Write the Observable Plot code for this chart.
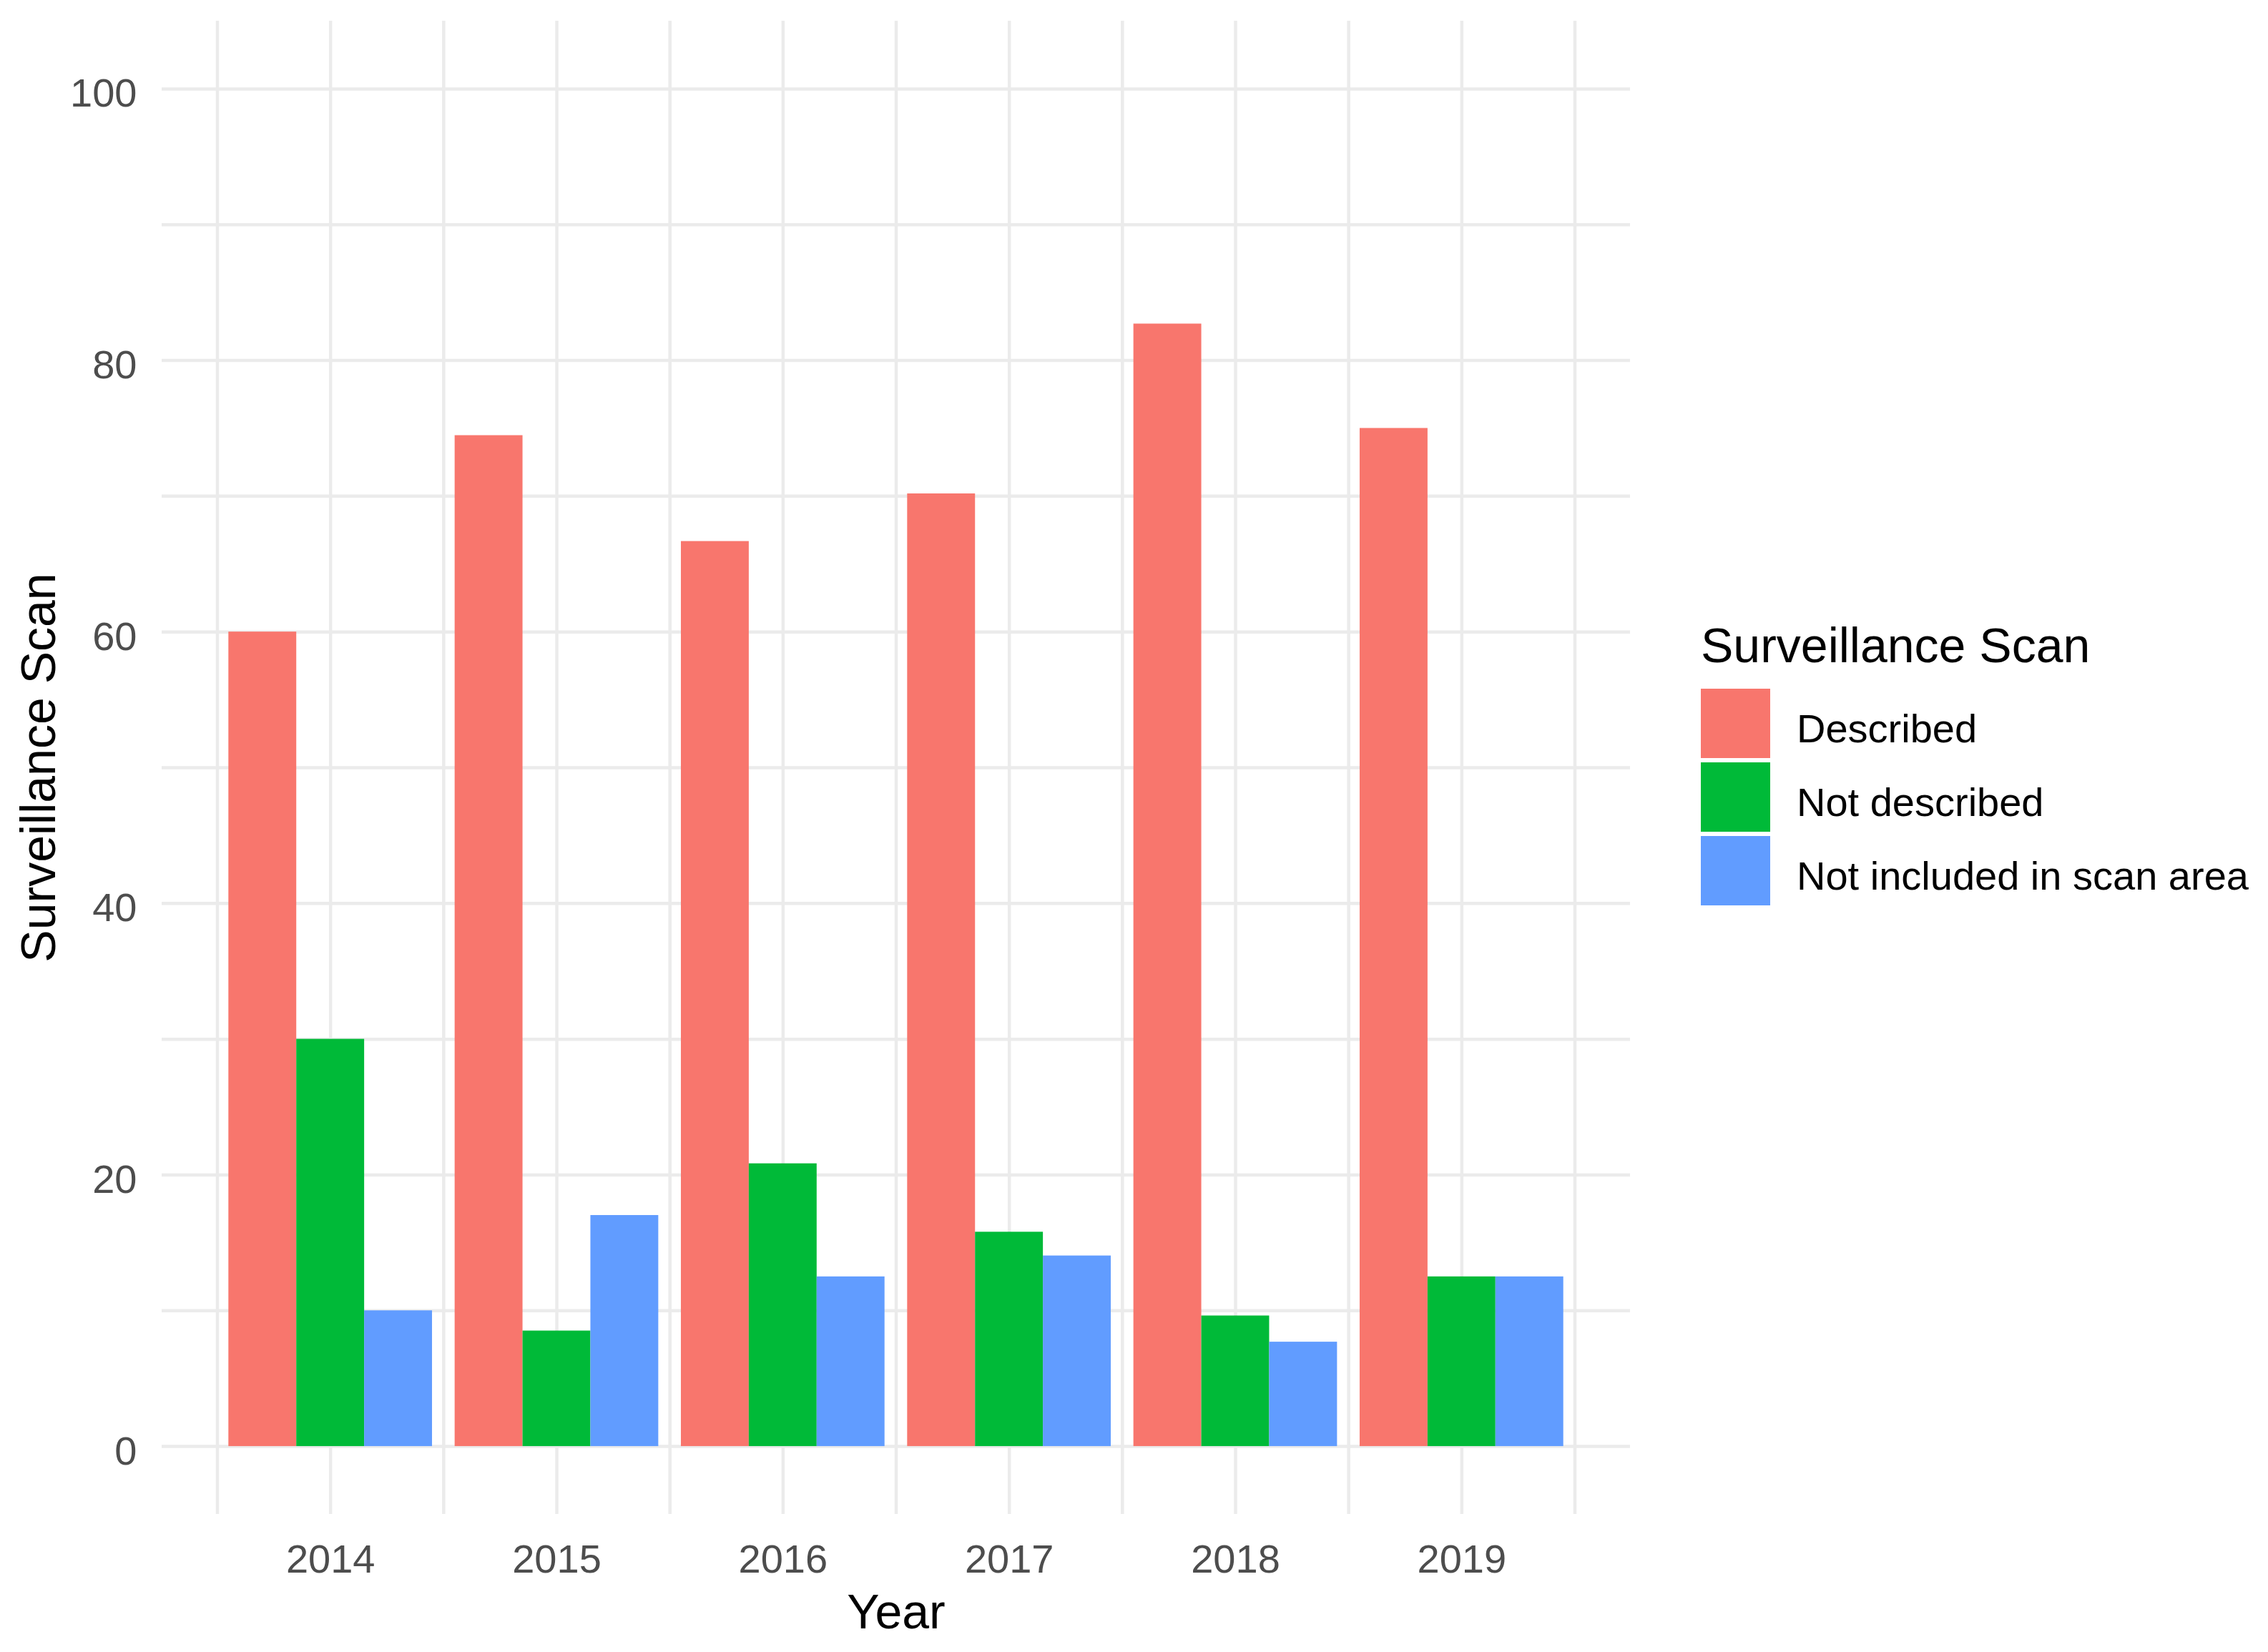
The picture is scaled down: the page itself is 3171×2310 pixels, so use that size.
<!DOCTYPE html>
<html>
<head>
<meta charset="utf-8">
<script src="https://cdn.jsdelivr.net/npm/d3@7"></script>
<script src="https://cdn.jsdelivr.net/npm/@observablehq/plot@0.6"></script>
<style>
  html, body { margin: 0; padding: 0; background: #ffffff; }
  body { width: 3171px; height: 2310px; position: relative; overflow: hidden;
         font-family: "Liberation Sans", Arial, sans-serif; }
  #chart { position: absolute; left: 0; top: 0; }
  #legend { position: absolute; left: 2378px; top: 868px; color: #000; }
  #legend .ltitle { font-size: 68px; line-height: 68px; height: 68px; white-space: nowrap; margin-bottom: 27px; }
  #legend .row { display: flex; align-items: flex-start; height: 97px; margin-bottom: 6px; }
  #legend .key { width: 97px; height: 97px; flex: none; }
  #legend .lab { font-size: 56px; line-height: 97px; margin-left: 37px; position: relative; top: 7px; white-space: nowrap; }
</style>
</head>
<body>
<div id="chart"></div>
<div id="legend"></div>
<script>
// ---- data ----
const years = [2014, 2015, 2016, 2017, 2018, 2019];
const series = ["Described", "Not described", "Not included in scan area"];
const described    = [60.00, 74.47, 66.67, 70.18, 82.69, 75.00];
const notDescribed = [30.00,  8.51, 20.83, 15.79,  9.62, 12.50];
const notIncluded  = [10.00, 17.02, 12.50, 14.04,  7.69, 12.50];
const colors = ["#F8766D", "#00BA38", "#619CFF"];
const yTicks = [0, 20, 40, 60, 80, 100];
const yGrid = [0, 10, 20, 30, 40, 50, 60, 70, 80, 90, 100];
const xGrid = [2013.5, 2014, 2014.5, 2015, 2015.5, 2016, 2016.5, 2017, 2017.5, 2018, 2018.5, 2019, 2019.5];
const xLabel = "Year";
const yLabel = "Surveillance Scan";
const legendTitle = "Surveillance Scan";

// ---- table ----
const valuesBySeries = [described, notDescribed, notIncluded];
const records = years.flatMap((yr, i) =>
  series.map((s, j) => ({ year: yr, series: s, index: j, value: valuesBySeries[j][i] }))
);

const dodge = 0.9;
const bw = dodge / series.length;
const grid = "#EBEBEB";

const chart = Plot.plot({
  width: 2300,
  height: 2310,
  marginLeft: 226,
  marginRight: 21,
  marginTop: 29,
  marginBottom: 193,
  style: { fontFamily: "Liberation Sans, Arial, sans-serif", fontSize: "56px", background: "white", overflow: "visible" },
  x: { domain: [2013.255, 2019.745] },
  y: { domain: [-5, 105] },
  color: { domain: series, range: colors },
  marks: [
    Plot.ruleY(yGrid, { stroke: grid, strokeWidth: 4.5 }),
    Plot.ruleX(xGrid, { stroke: grid, strokeWidth: 4.5 }),
    Plot.rect(records, {
      x1: d => d.year - dodge / 2 + d.index * bw,
      x2: d => d.year - dodge / 2 + (d.index + 1) * bw,
      y1: 0,
      y2: "value",
      fill: "series"
    }),
    Plot.axisX(years, { tickSize: 0, tickPadding: 42, tickFormat: d => String(d), fill: "#4D4D4D", fontSize: 56, label: null }),
    Plot.axisY(yTicks, { tickSize: 0, tickPadding: 35, dy: 7, fill: "#4D4D4D", fontSize: 56, label: null }),
    Plot.text([xLabel], { text: d => d, frameAnchor: "bottom", lineAnchor: "bottom", textAnchor: "middle", dy: 159, fontSize: 68, fill: "#000" }),
    Plot.text([yLabel], { text: d => d, frameAnchor: "left", rotate: -90, lineAnchor: "bottom", textAnchor: "middle", dx: -150, fontSize: 68, fill: "#000" })
  ]
});
document.getElementById("chart").appendChild(chart);

// ---- legend ----
const legend = document.getElementById("legend");
const t = document.createElement("div");
t.className = "ltitle";
t.textContent = legendTitle;
legend.appendChild(t);
series.forEach((s, j) => {
  const row = document.createElement("div");
  row.className = "row";
  const key = document.createElement("div");
  key.className = "key";
  key.style.background = colors[j];
  const lab = document.createElement("div");
  lab.className = "lab";
  lab.textContent = s;
  row.appendChild(key);
  row.appendChild(lab);
  legend.appendChild(row);
});
</script>
</body>
</html>
